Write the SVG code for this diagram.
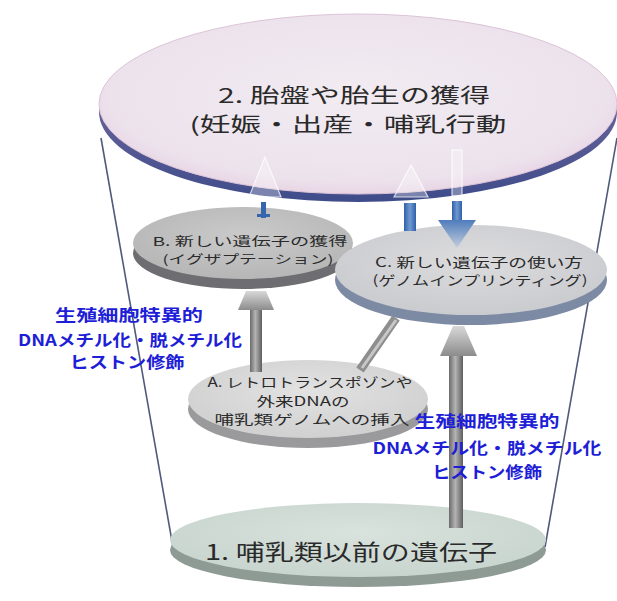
<svg xmlns="http://www.w3.org/2000/svg" width="617" height="601" viewBox="0 0 617 601">
<defs>
<style>
.nt{font-family:"Noto Sans CJK JP","Liberation Sans",sans-serif;fill:#2a2a2a;text-anchor:middle;}
.bl{font-family:"Noto Sans CJK JP","Liberation Sans",sans-serif;fill:#1e1ed6;font-weight:bold;font-size:16px;text-anchor:middle;}
.cup{stroke:#4f5a7c;stroke-width:1.6;fill:none;}
.ghost{fill:#ffffff;fill-opacity:0.3;stroke:#ffffff;stroke-opacity:0.75;stroke-width:1.2;}
</style>
<radialGradient id="g2" cx="0.5" cy="0.45" r="0.6">
<stop offset="0" stop-color="#F2ECF2"/><stop offset="0.8" stop-color="#ECE2EC"/><stop offset="1" stop-color="#E6CCE0"/>
</radialGradient>
<linearGradient id="s2" x1="0" y1="0" x2="0" y2="1">
<stop offset="0" stop-color="#8a76a8"/><stop offset="1" stop-color="#3e4c8a"/>
</linearGradient>
<radialGradient id="gB" cx="0.5" cy="0.4" r="0.6">
<stop offset="0" stop-color="#CACACA"/><stop offset="1" stop-color="#B6B6B6"/>
</radialGradient>
<radialGradient id="gC" cx="0.5" cy="0.4" r="0.6">
<stop offset="0" stop-color="#DCDCDE"/><stop offset="1" stop-color="#CACBCF"/>
</radialGradient>
<radialGradient id="gA" cx="0.5" cy="0.4" r="0.6">
<stop offset="0" stop-color="#E2E2E2"/><stop offset="1" stop-color="#D0D0D0"/>
</radialGradient>
<radialGradient id="g1" cx="0.5" cy="0.4" r="0.6">
<stop offset="0" stop-color="#D9E3DE"/><stop offset="1" stop-color="#C8D4CE"/>
</radialGradient>
<linearGradient id="shaft" x1="0" y1="0" x2="1" y2="0">
<stop offset="0" stop-color="#6a6a6a"/><stop offset="0.45" stop-color="#b4b4b4"/><stop offset="1" stop-color="#5e5e5e"/>
</linearGradient>
<linearGradient id="head" x1="0" y1="0" x2="0" y2="1">
<stop offset="0" stop-color="#d8d8d8"/><stop offset="1" stop-color="#8c8c8c"/>
</linearGradient>
<linearGradient id="bshaft" x1="0" y1="0" x2="1" y2="0">
<stop offset="0" stop-color="#2f5fa8"/><stop offset="0.5" stop-color="#6f9ad0"/><stop offset="1" stop-color="#2f5fa8"/>
</linearGradient>
<linearGradient id="bhead" x1="0" y1="0" x2="0" y2="1">
<stop offset="0" stop-color="#4f7cbc"/><stop offset="1" stop-color="#c4cedc"/>
</linearGradient>
</defs>
<rect width="617" height="601" fill="#ffffff"/>

<g id="cup">
<line class="cup" x1="101" y1="138" x2="173" y2="547"/>
<line class="cup" x1="617" y1="138" x2="545" y2="547"/>
</g>

<g id="node-2">
<ellipse cx="358" cy="112" rx="259" ry="90" fill="url(#s2)"/>
<ellipse cx="358" cy="104" rx="259" ry="90" fill="url(#g2)" stroke="#dcc4d8" stroke-width="1"/>
<text class="nt" x="354" y="103" font-size="20" textLength="272" lengthAdjust="spacingAndGlyphs">2. 胎盤や胎生の獲得</text>
<text class="nt" x="348" y="132" font-size="20" textLength="317" lengthAdjust="spacingAndGlyphs">(妊娠・出産・哺乳行動</text>
</g>

<g id="node-B">
<ellipse cx="243" cy="253" rx="110" ry="36" fill="#6e6e72"/>
<ellipse cx="243" cy="243" rx="110" ry="36" fill="url(#gB)"/>
<text class="nt" x="250" y="246" font-size="12" textLength="195" lengthAdjust="spacingAndGlyphs">B. 新しい遺伝子の獲得</text>
<text class="nt" x="248" y="264" font-size="12" textLength="171" lengthAdjust="spacingAndGlyphs">(イグザプテーション)</text>
</g>

<g id="node-C">
<ellipse cx="471" cy="280" rx="136" ry="45" fill="#7c8aa4"/>
<ellipse cx="471" cy="270" rx="136" ry="45" fill="url(#gC)"/>
<text class="nt" x="479" y="267" font-size="13" textLength="208" lengthAdjust="spacingAndGlyphs">C. 新しい遺伝子の使い方</text>
<text class="nt" x="480" y="285" font-size="13" textLength="215" lengthAdjust="spacingAndGlyphs">(ゲノムインプリンティング)</text>
</g>

<g id="node-A">
<ellipse cx="308" cy="409" rx="120" ry="39" fill="#9a9a9c"/>
<ellipse cx="308" cy="399" rx="120" ry="39" fill="url(#gA)"/>
<text class="nt" x="310" y="387" font-size="13" textLength="205" lengthAdjust="spacingAndGlyphs">A. レトロトランスポゾンや</text>
<text class="nt" x="303" y="406" font-size="13" textLength="93" lengthAdjust="spacingAndGlyphs">外来DNAの</text>
<text class="nt" x="312" y="424" font-size="13" textLength="195" lengthAdjust="spacingAndGlyphs">哺乳類ゲノムへの挿入</text>
</g>

<g id="node-1">
<ellipse cx="358" cy="550" rx="188" ry="37" fill="#8e9a94"/>
<ellipse cx="358" cy="540" rx="188" ry="37" fill="url(#g1)"/>
<text class="nt" x="351" y="560" font-size="22" textLength="292" lengthAdjust="spacingAndGlyphs">1. 哺乳類以前の遺伝子</text>
</g>

<g id="connectors">
<rect x="250" y="308" width="12" height="64" fill="url(#shaft)"/>
<polygon points="238,310 274,310 266,291 246,291" fill="url(#head)"/>
<line x1="360" y1="370" x2="396" y2="318" stroke="#8e8e8e" stroke-width="9"/>
<line x1="362" y1="368" x2="396" y2="320" stroke="#c8c8c8" stroke-width="3"/>
<rect x="449" y="354" width="14" height="174" fill="url(#shaft)"/>
<polygon points="440,356 477,356 464,326 453,326" fill="url(#head)"/>
<rect x="261" y="202" width="5" height="16" fill="#3566ad"/>
<rect x="257" y="214" width="13" height="3" fill="#3566ad"/>
<polygon class="ghost" points="249,197 265,157 281,197"/>
<rect x="404" y="203" width="12" height="28" fill="url(#bshaft)"/>
<polygon class="ghost" points="394,197 411,165 428,197"/>
<rect x="452" y="150" width="10" height="46" class="ghost"/>
<rect x="452" y="201" width="10" height="20" fill="url(#bshaft)"/>
<polygon points="438,220 476,220 457,248" fill="url(#bhead)"/>
</g>

<g id="labels">
<text class="bl" x="129" y="321" textLength="148" lengthAdjust="spacingAndGlyphs">生殖細胞特異的</text>
<text class="bl" x="130" y="346" textLength="224" lengthAdjust="spacingAndGlyphs">DNAメチル化・脱メチル化</text>
<text class="bl" x="127" y="368" textLength="115" lengthAdjust="spacingAndGlyphs">ヒストン修飾</text>
<text class="bl" x="487" y="427" textLength="145" lengthAdjust="spacingAndGlyphs">生殖細胞特異的</text>
<text class="bl" x="487" y="454" textLength="229" lengthAdjust="spacingAndGlyphs">DNAメチル化・脱メチル化</text>
<text class="bl" x="487" y="478" textLength="110" lengthAdjust="spacingAndGlyphs">ヒストン修飾</text>
</g>
</svg>
